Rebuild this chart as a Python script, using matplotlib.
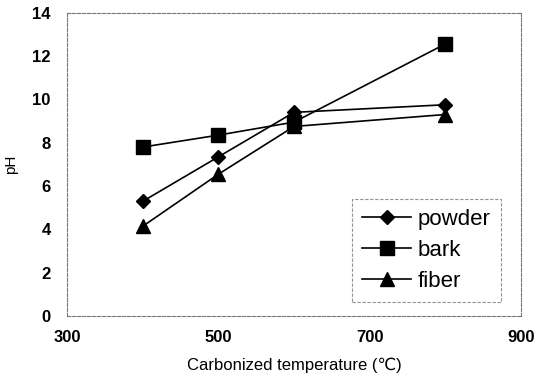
import numpy as np
from matplotlib import pyplot as plt

plt.rcParams['font.family'] = ['Liberation Sans', 'DejaVu Sans']

# carbonization temperatures and pH
temps = [400, 500, 600, 800]
powder = [5.3, 7.35, 9.4, 9.75]
bark = [7.8, 8.35, 8.95, 12.55]
fiber = [4.15, 6.55, 8.75, 9.3]

fig = plt.figure(figsize=(5.38, 3.81), dpi=100)
ax = fig.add_axes([0.125, 0.17, 0.843, 0.797])

ax.plot(temps, powder, color='black', lw=1.2, marker='D', ms=7.5, label='powder')
ax.plot(temps, bark, color='black', lw=1.2, marker='s', ms=9.5, label='bark')
ax.plot(temps, fiber, color='black', lw=1.2, marker='^', ms=10, label='fiber')

ax.set_xlim(300, 900)
ax.set_ylim(0, 14)
ax.set_xticks([300, 500, 700, 900])
ax.set_yticks(np.arange(0, 15, 2))
ax.tick_params(axis='x', length=0, pad=10, labelsize=12)
ax.tick_params(axis='y', length=0, pad=12, labelsize=12)
for lab in ax.get_xticklabels() + ax.get_yticklabels():
    lab.set_fontweight('bold')

for sp in ax.spines.values():
    sp.set_linestyle((0, (3, 1.5)))
    sp.set_color('#777777')
    sp.set_linewidth(0.8)

ax.set_xlabel('Carbonized temperature (\u2103)', fontsize=12, labelpad=9)
ax.set_ylabel('pH', fontsize=11, labelpad=10)

leg = ax.legend(loc='lower right', fontsize=16, frameon=True, fancybox=False,
                handlelength=2.2, handletextpad=0.3, labelspacing=0.45,
                borderpad=0.45, borderaxespad=0.5, bbox_to_anchor=(0.98, 0.01))
fr = leg.get_frame()
fr.set_linestyle((0, (3, 1.5)))
fr.set_edgecolor('#777777')
fr.set_linewidth(0.8)

fig.savefig('out.png', dpi=100)
